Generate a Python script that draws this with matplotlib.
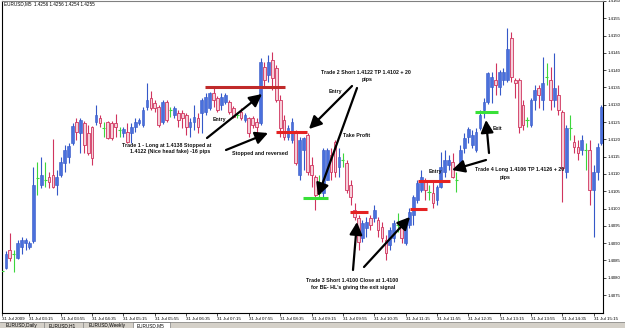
import matplotlib
matplotlib.use('Agg')
import matplotlib.pyplot as plt
import numpy as np
from matplotlib.lines import Line2D
from matplotlib.patches import FancyArrowPatch, Rectangle

# EURUSD M5 bars, 31 Jul 2009, first visible bar = 02:40
opens = [
    1.40820, 1.40828, 1.40880, 1.40869, 1.40857, 1.40889, 1.40901, 1.40889, 1.40906, 1.41089,
    1.41068, 1.41083, 1.41091, 1.41097, 1.41068, 1.41097, 1.41132, 1.41149, 1.41190, 1.41250,
    1.41219, 1.41247, 1.41219, 1.41236, 1.41250, 1.41262, 1.41233, 1.41250, 1.41247, 1.41247,
    1.41227, 1.41219, 1.41221, 1.41219, 1.41236, 1.41247, 1.41242, 1.41294, 1.41320, 1.41305,
    1.41294, 1.41250, 1.41308, 1.41285, 1.41271, 1.41276, 1.41276, 1.41271, 1.41236, 1.41250,
    1.41262, 1.41276, 1.41279, 1.41291, 1.41334, 1.41320, 1.41299, 1.41308, 1.41308, 1.41291,
    1.41271, 1.41279, 1.41256, 1.41262, 1.41262, 1.41250, 1.41247, 1.41409, 1.41386, 1.41430,
    1.41406, 1.41314, 1.41256, 1.41207, 1.41198, 1.41219, 1.41097, 1.41169, 1.41213, 1.41126,
    1.41091, 1.41045, 1.41045, 1.41083, 1.41155, 1.41193, 1.41120, 1.41141, 1.41132, 1.41068,
    1.40996, 1.40973, 1.40915, 1.40944, 1.40973, 1.40973, 1.40967, 1.40947, 1.40909, 1.40895,
    1.40915, 1.40953, 1.40947, 1.40901, 1.40953, 1.40982, 1.41025, 1.41054, 1.41077, 1.41048,
    1.41045, 1.41025, 1.41062, 1.41106, 1.41126, 1.41135, 1.41083, 1.41120, 1.41175, 1.41207,
    1.41184, 1.41169, 1.41233, 1.41285, 1.41308, 1.41351, 1.41372, 1.41351, 1.41372, 1.41372,
    1.41493, 1.41372, 1.41372, 1.41299, 1.41256, 1.41242, 1.41314, 1.41349, 1.41314, 1.41380,
    1.41372, 1.41314, 1.41328, 1.41279, 1.41106, 1.41233, 1.41193, 1.41178, 1.41169, 1.41169,
    1.41169, 1.41054, 1.41106, 1.41190,
]
highs = [
    1.40846, 1.40878, 1.40930, 1.40880, 1.40909, 1.40918, 1.40915, 1.40906, 1.41120, 1.41135,
    1.41149, 1.41135, 1.41106, 1.41201, 1.41112, 1.41149, 1.41184, 1.41190, 1.41247, 1.41262,
    1.41262, 1.41253, 1.41242, 1.41239, 1.41299, 1.41271, 1.41250, 1.41253, 1.41253, 1.41273,
    1.41236, 1.41236, 1.41247, 1.41247, 1.41262, 1.41262, 1.41294, 1.41363, 1.41340, 1.41314,
    1.41299, 1.41314, 1.41314, 1.41294, 1.41297, 1.41285, 1.41285, 1.41276, 1.41262, 1.41299,
    1.41276, 1.41320, 1.41334, 1.41337, 1.41349, 1.41325, 1.41334, 1.41334, 1.41314, 1.41297,
    1.41279, 1.41291, 1.41276, 1.41265, 1.41268, 1.41262, 1.41435, 1.41424, 1.41444, 1.41453,
    1.41415, 1.41328, 1.41271, 1.41242, 1.41262, 1.41227, 1.41207, 1.41207, 1.41219, 1.41149,
    1.41097, 1.41097, 1.41175, 1.41175, 1.41175, 1.41198, 1.41175, 1.41161, 1.41141, 1.41083,
    1.41016, 1.40982, 1.40967, 1.40976, 1.40982, 1.41010, 1.40976, 1.40961, 1.40924, 1.40947,
    1.40967, 1.40987, 1.40961, 1.40973, 1.41002, 1.41039, 1.41083, 1.41112, 1.41089, 1.41068,
    1.41077, 1.41068, 1.41164, 1.41169, 1.41155, 1.41161, 1.41106, 1.41184, 1.41219, 1.41236,
    1.41227, 1.41233, 1.41285, 1.41320, 1.41395, 1.41395, 1.41421, 1.41401, 1.41406, 1.41522,
    1.41510, 1.41378, 1.41378, 1.41314, 1.41265, 1.41320, 1.41357, 1.41357, 1.41438, 1.41421,
    1.41409, 1.41450, 1.41357, 1.41285, 1.41242, 1.41271, 1.41213, 1.41198, 1.41213, 1.41190,
    1.41198, 1.41126, 1.41190, 1.41299,
]
lows = [
    1.40808, 1.40826, 1.40849, 1.40817, 1.40854, 1.40869, 1.40880, 1.40883, 1.40901, 1.41039,
    1.41060, 1.41062, 1.41060, 1.41060, 1.41039, 1.41091, 1.41106, 1.41132, 1.41184, 1.41198,
    1.41161, 1.41161, 1.41155, 1.41126, 1.41242, 1.41236, 1.41207, 1.41201, 1.41198, 1.41207,
    1.41207, 1.41207, 1.41190, 1.41190, 1.41221, 1.41242, 1.41236, 1.41285, 1.41285, 1.41279,
    1.41236, 1.41245, 1.41250, 1.41265, 1.41262, 1.41236, 1.41233, 1.41213, 1.41207, 1.41227,
    1.41219, 1.41219, 1.41271, 1.41285, 1.41294, 1.41279, 1.41285, 1.41302, 1.41273, 1.41262,
    1.41262, 1.41256, 1.41250, 1.41207, 1.41233, 1.41213, 1.41242, 1.41349, 1.41366, 1.41343,
    1.41308, 1.41207, 1.41198, 1.41198, 1.41190, 1.41126, 1.41083, 1.41112, 1.41097, 1.41062,
    1.40996, 1.41034, 1.41034, 1.41083, 1.41083, 1.41091, 1.41091, 1.41120, 1.41045, 1.41010,
    1.40967, 1.40880, 1.40904, 1.40918, 1.40938, 1.40961, 1.40918, 1.40904, 1.40852, 1.40880,
    1.40904, 1.40932, 1.40901, 1.40895, 1.40944, 1.40953, 1.41016, 1.41048, 1.41025, 1.41025,
    1.41002, 1.41010, 1.41060, 1.41091, 1.41112, 1.41089, 1.41048, 1.41112, 1.41161, 1.41190,
    1.41175, 1.41164, 1.41227, 1.41262, 1.41302, 1.41305, 1.41328, 1.41328, 1.41357, 1.41366,
    1.41366, 1.41320, 1.41219, 1.41227, 1.41236, 1.41236, 1.41285, 1.41291, 1.41285, 1.41357,
    1.41285, 1.41294, 1.41271, 1.41019, 1.41089, 1.41198, 1.41161, 1.41141, 1.41155, 1.41112,
    1.41010, 1.40918, 1.41083, 1.41184,
]
closes = [
    1.40820, 1.40869, 1.40857, 1.40869, 1.40901, 1.40909, 1.40909, 1.40901, 1.41068, 1.41089,
    1.41097, 1.41083, 1.41077, 1.41062, 1.41091, 1.41135, 1.41169, 1.41181, 1.41239, 1.41221,
    1.41256, 1.41184, 1.41161, 1.41146, 1.41271, 1.41247, 1.41233, 1.41204, 1.41204, 1.41236,
    1.41227, 1.41230, 1.41193, 1.41236, 1.41250, 1.41256, 1.41285, 1.41314, 1.41291, 1.41291,
    1.41242, 1.41308, 1.41256, 1.41285, 1.41291, 1.41256, 1.41262, 1.41236, 1.41250, 1.41265,
    1.41236, 1.41314, 1.41323, 1.41334, 1.41314, 1.41285, 1.41323, 1.41328, 1.41279, 1.41265,
    1.41271, 1.41262, 1.41271, 1.41219, 1.41242, 1.41236, 1.41424, 1.41372, 1.41424, 1.41378,
    1.41314, 1.41233, 1.41207, 1.41233, 1.41250, 1.41132, 1.41198, 1.41204, 1.41106, 1.41097,
    1.41039, 1.41045, 1.41169, 1.41169, 1.41106, 1.41106, 1.41149, 1.41141, 1.41054, 1.41034,
    1.40976, 1.40904, 1.40958, 1.40961, 1.40953, 1.40996, 1.40938, 1.40915, 1.40872, 1.40938,
    1.40958, 1.40953, 1.40915, 1.40961, 1.40990, 1.41034, 1.41074, 1.41091, 1.41054, 1.41048,
    1.41016, 1.41062, 1.41120, 1.41141, 1.41141, 1.41091, 1.41083, 1.41169, 1.41204, 1.41230,
    1.41213, 1.41221, 1.41271, 1.41308, 1.41392, 1.41380, 1.41357, 1.41395, 1.41395, 1.41461,
    1.41380, 1.41363, 1.41236, 1.41242, 1.41256, 1.41314, 1.41343, 1.41328, 1.41363, 1.41380,
    1.41314, 1.41349, 1.41285, 1.41117, 1.41233, 1.41233, 1.41178, 1.41161, 1.41198, 1.41169,
    1.41054, 1.41106, 1.41178, 1.41294,
]

# time axis labels (bar index -> label)
time_ticks = [0, 7, 15, 23, 31, 39, 47, 55, 63, 71, 79, 87, 95, 103, 111, 119, 127, 135, 143, 151]
time_labels = ['31 Jul 2009', '31 Jul 03:15', '31 Jul 03:55', '31 Jul 04:35', '31 Jul 05:15',
               '31 Jul 05:55', '31 Jul 06:35', '31 Jul 07:15', '31 Jul 07:55', '31 Jul 08:35',
               '31 Jul 09:15', '31 Jul 09:55', '31 Jul 10:35', '31 Jul 11:15', '31 Jul 11:55',
               '31 Jul 12:35', '31 Jul 13:15', '31 Jul 13:55', '31 Jul 14:35', '31 Jul 15:15']
price_ticks = [1.4075, 1.4080, 1.4085, 1.4090, 1.4095, 1.4100, 1.4105, 1.4110, 1.4115,
               1.4120, 1.4125, 1.4130, 1.4135, 1.4140, 1.4145, 1.4150, 1.4155, 1.4160]

# trade levels drawn on the chart
level_prices = [1.4135, 1.4122, 1.4103, 1.4099, 1.4100, 1.4108, 1.4128]
level_start = [51.8, 70.0, 76.8, 88.8, 104.2, 106.2, 120.8]
level_end = [72.3, 77.9, 83.2, 93.4, 108.5, 114.4, 126.6]
level_kind = ['loss', 'entry', 'tp', 'entry', 'entry', 'entry', 'tp']

assert len(opens) == len(highs) == len(lows) == len(closes)

BLUE = '#4a70dc'
BLUE_EDGE = '#3558c8'
PINK = '#f6d0da'
RED_EDGE = '#d0345e'
GREEN = '#3cd63c'
W, H = 625, 328


def fxy(x, y):
    # reference pixel -> figure fraction
    return x / W, 1 - y / H


fig = plt.figure(figsize=(W / 100, H / 100), dpi=100)
fig.patch.set_facecolor('white')
ax = fig.add_axes([2 / W, 15 / H, 601 / W, 312 / H])

o = np.array(opens)
h = np.array(highs)
l = np.array(lows)
c = np.array(closes)
idx = np.arange(len(o))
up = c > o
down = c < o
flat = c == o

wick_colors = np.where(up, BLUE_EDGE, np.where(down, RED_EDGE, GREEN))
ax.vlines(idx, l, h, colors=wick_colors, lw=0.8, zorder=2)
body_bottom = np.minimum(o, c)
body_height = np.abs(c - o)
ax.bar(idx[up], body_height[up], bottom=body_bottom[up], width=0.7,
       color=BLUE, edgecolor=BLUE_EDGE, lw=0.4, zorder=3)
ax.bar(idx[down], body_height[down], bottom=body_bottom[down], width=0.7,
       color=PINK, edgecolor=RED_EDGE, lw=0.6, zorder=3)
ax.hlines(c[flat], idx[flat] - 0.4, idx[flat] + 0.4, colors=GREEN, lw=0.8, zorder=3)

level_colors = {'loss': '#c02a2a', 'entry': '#e42222', 'tp': '#38e038'}
for price, x0, x1, kind in zip(level_prices, level_start, level_end, level_kind):
    ax.hlines(price, x0, x1, colors=level_colors[kind], lw=2.2, zorder=4)

ax.set_xlim(0, 153.4)
ax.set_ylim(1.4160 - 312 / 34600, 1.4160)

ax.yaxis.tick_right()
ax.set_yticks(price_ticks)
ax.set_yticklabels([f'{p:.4f}' for p in price_ticks], fontsize=3.1, family='Liberation Sans')
ax.set_xticks(time_ticks)
ax.set_xticklabels(time_labels, fontsize=3.2, family='Liberation Sans', ha='left')
ax.tick_params(axis='both', length=2, width=0.5, pad=1.2, colors='black')
ax.tick_params(axis='x', pad=1.0)
for side in ['left', 'bottom', 'right']:
    ax.spines[side].set_color('black')
    ax.spines[side].set_linewidth(0.8)
ax.spines['top'].set_color('#808080')
ax.spines['top'].set_linewidth(0.8)

# header line
fig.text(*fxy(4, 4), 'EURUSD,M5  1.4256 1.4256 1.4254 1.4255', fontsize=3.3,
         family='Liberation Sans', va='center', ha='left')

# annotation texts
notes = [
    (167, 145, 'Trade 1 - Long at 1.4138 Stopped at'),
    (170, 152, '1.4122 (Nice head fake) -16 pips'),
    (219, 120, 'Entry'),
    (260, 153, 'Stopped and reversed'),
    (366, 72, 'Trade 2 Short 1.4122 TP 1.4102 + 20'),
    (367, 80, 'pips'),
    (335, 91, 'Entry'),
    (357, 136, 'Take Profit'),
    (352, 281, 'Trade 3 Short 1.4100 Close at 1.4100'),
    (353, 288, "for BE- HL's giving the exit signal"),
    (520, 170, 'Trade 4 Long 1.4106 TP 1.4126 + 20'),
    (505, 178, 'pips'),
    (435, 172, 'Entry'),
    (497, 128, 'Exit'),
]
for x, y, s in notes:
    fig.text(*fxy(x, y), s, fontsize=3.8, fontweight='bold', family='Liberation Sans',
             ha='center', va='center', color='#111111')

arrows = [
    ((207, 138), (262, 94)),
    ((226, 150), (268, 133)),
    ((352, 86), (309, 129)),
    ((357, 88), (318, 196)),
    ((353, 270), (357, 222)),
    ((364, 267), (410, 217)),
    ((486, 160), (452, 170)),
    ((489, 153), (486, 120)),
]
for tail, head in arrows:
    fig.add_artist(FancyArrowPatch(fxy(*tail), fxy(*head), transform=fig.transFigure,
                                   arrowstyle='-|>,head_length=0.75,head_width=0.38',
                                   mutation_scale=10, lw=1.6, color='black',
                                   shrinkA=0, shrinkB=0, zorder=10))

# terminal tab bar along the bottom
fig.add_artist(Rectangle(fxy(0, 328), 1, 6.5 / H, transform=fig.transFigure,
                         facecolor='#d4d0c8', edgecolor='none'))
fig.add_artist(Rectangle(fxy(133, 328), 37 / W, 6.5 / H, transform=fig.transFigure,
                         facecolor='white', edgecolor='#808080', lw=0.5))
fig.add_artist(Line2D([0, 1], [1 - 321.5 / H] * 2, transform=fig.transFigure,
                      color='#808080', lw=0.5))
tabs = [(21, 'EURUSD,Daily'), (62, 'EURUSD,H1'), (107, 'EURUSD,Weekly'), (151, 'EURUSD,M5')]
for x, s in tabs:
    fig.text(*fxy(x, 325.5), s, fontsize=3.4, family='Liberation Sans', ha='center', va='center')
for x in [44, 83]:
    fig.add_artist(Line2D([x / W] * 2, [0, 6 / H], transform=fig.transFigure,
                          color='#808080', lw=0.5))

fig.savefig('out.png', dpi=100)
